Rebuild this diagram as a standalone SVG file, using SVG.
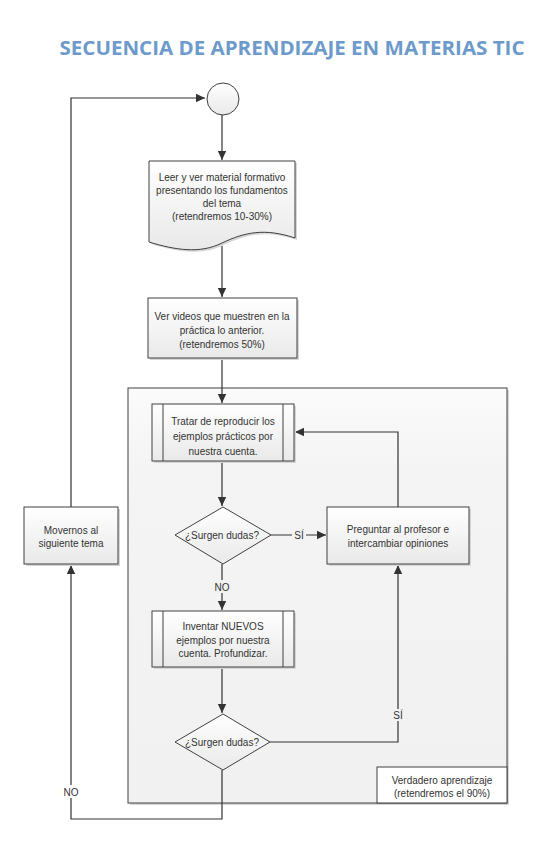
<svg xmlns="http://www.w3.org/2000/svg" width="550" height="850" viewBox="0 0 550 850">
<defs>
<linearGradient id="g" x1="0" y1="0" x2="0" y2="1"><stop offset="0" stop-color="#ffffff"/><stop offset="1" stop-color="#e9e9e9"/></linearGradient>
<linearGradient id="gc" x1="0" y1="0" x2="0" y2="1"><stop offset="0" stop-color="#fbfbfb"/><stop offset="0.2" stop-color="#f4f4f4"/><stop offset="1" stop-color="#f1f1f1"/></linearGradient>
<marker id="a" markerWidth="10" markerHeight="10" refX="9" refY="5" orient="auto" markerUnits="userSpaceOnUse"><path d="M0,0.8 L9,5 L0,9.2 Z" fill="#333"/></marker>
<style>
.s{fill:url(#g);stroke:#404040;stroke-width:1}
.sh{fill:#d6d6d6}
.t{font-family:"Liberation Sans",Arial,sans-serif;font-size:10px;fill:#333;text-anchor:middle;dominant-baseline:central}
.c{fill:none;stroke:#333;stroke-width:1.2}
</style>
</defs>
<rect width="550" height="850" fill="#fff"/>
<text x="292" y="55" font-family="'Open Sans','Liberation Sans',sans-serif" font-weight="bold" font-size="19" fill="#6C9ACB" text-anchor="middle" textLength="465" lengthAdjust="spacingAndGlyphs">SECUENCIA DE APRENDIZAJE EN MATERIAS TIC</text>

<g id="container">
<rect x="130" y="390" width="379" height="415" class="sh"/>
<rect x="128" y="388" width="379" height="415" fill="url(#gc)" stroke="#404040"/>
</g>
<g id="verdadero">
<rect x="377" y="767" width="130" height="36" fill="#fff" stroke="#404040"/>
<text class="t" x="442" y="780">Verdadero aprendizaje</text>
<text class="t" x="442" y="793">(retendremos el 90%)</text>
</g>

<g id="connectors">
<path class="c" d="M222,114 V160" marker-end="url(#a)"/>
<path class="c" d="M222,246 V297" marker-end="url(#a)"/>
<path class="c" d="M222,358 V403" marker-end="url(#a)"/>
<path class="c" d="M222,461 V506" marker-end="url(#a)"/>
<path class="c" d="M271,535 H326" marker-end="url(#a)"/>
<path class="c" d="M398,507 V432 H295" marker-end="url(#a)"/>
<path class="c" d="M222,564 V610" marker-end="url(#a)"/>
<path class="c" d="M222,667 V713" marker-end="url(#a)"/>
<path class="c" d="M270,742 H398 V565" marker-end="url(#a)"/>
<path class="c" d="M222,770 V819 H71 V565" marker-end="url(#a)"/>
<path class="c" d="M71,507 V98 H205" marker-end="url(#a)"/>
<rect x="292" y="529" width="14" height="12" fill="#f2f2f2"/>
<text class="t" x="299" y="535">SÍ</text>
<rect x="213" y="580" width="19" height="13" fill="#f2f2f2"/>
<text class="t" x="222" y="587">NO</text>
<rect x="392" y="709" width="12" height="12" fill="#f2f2f2"/>
<text class="t" x="398" y="715">SÍ</text>
<rect x="62" y="785" width="19" height="13" fill="#fff"/>
<text class="t" x="71" y="792">NO</text>
</g>

<g id="start">
<circle cx="223" cy="99" r="16" fill="url(#g)" stroke="#404040"/>
</g>

<g id="leer">
<path class="sh" d="M151,163 H297 V240 C267,230 247,234 224,245 C202,256 177,252 151,244 Z"/>
<path class="s" d="M149,161 H295 V238 C265,228 245,232 222,243 C200,254 175,250 149,242 Z"/>
<text class="t" x="222" y="177">Leer y ver material formativo</text>
<text class="t" x="222" y="190">presentando los fundamentos</text>
<text class="t" x="222" y="203">del tema</text>
<text class="t" x="222" y="216">(retendremos 10-30%)</text>
</g>

<g id="videos">
<rect class="sh" x="150" y="300" width="149" height="60"/>
<rect class="s" x="148" y="298" width="149" height="60"/>
<text class="t" x="222" y="316">Ver videos que muestren en la</text>
<text class="t" x="222" y="330">práctica lo anterior.</text>
<text class="t" x="222" y="344">(retendremos 50%)</text>
</g>

<g id="tratar">
<rect class="sh" x="154" y="406" width="142" height="57"/>
<rect class="s" x="152" y="404" width="142" height="57"/>
<path d="M163,404 V461 M283,404 V461" stroke="#404040" fill="none"/>
<text class="t" x="223" y="421">Tratar de reproducir los</text>
<text class="t" x="223" y="436">ejemplos prácticos por</text>
<text class="t" x="223" y="451">nuestra cuenta.</text>
</g>

<g id="dudas1">
<path class="s" d="M223,507 L271,535 L223,564 L175,535 Z"/>
<text class="t" x="222" y="535">¿Surgen dudas?</text>
</g>

<g id="preguntar">
<rect class="sh" x="329" y="509" width="142" height="57"/>
<rect class="s" x="327" y="507" width="142" height="57"/>
<text class="t" x="398" y="529">Preguntar al profesor e</text>
<text class="t" x="398" y="543">intercambiar opiniones</text>
</g>

<g id="inventar">
<rect class="sh" x="154" y="613" width="142" height="56"/>
<rect class="s" x="152" y="611" width="142" height="56"/>
<path d="M163,611 V667 M283,611 V667" stroke="#404040" fill="none"/>
<text class="t" x="223" y="626">Inventar NUEVOS</text>
<text class="t" x="223" y="640">ejemplos por nuestra</text>
<text class="t" x="223" y="653">cuenta. Profundizar.</text>
</g>

<g id="dudas2">
<path class="s" d="M223,714 L270,742 L223,770 L175,742 Z"/>
<text class="t" x="222" y="742">¿Surgen dudas?</text>
</g>

<g id="movernos">
<rect class="sh" x="26" y="509" width="94" height="57"/>
<rect class="s" x="24" y="507" width="94" height="57"/>
<text class="t" x="71" y="530">Movernos al</text>
<text class="t" x="71" y="543">siguiente tema</text>
</g>
</svg>
